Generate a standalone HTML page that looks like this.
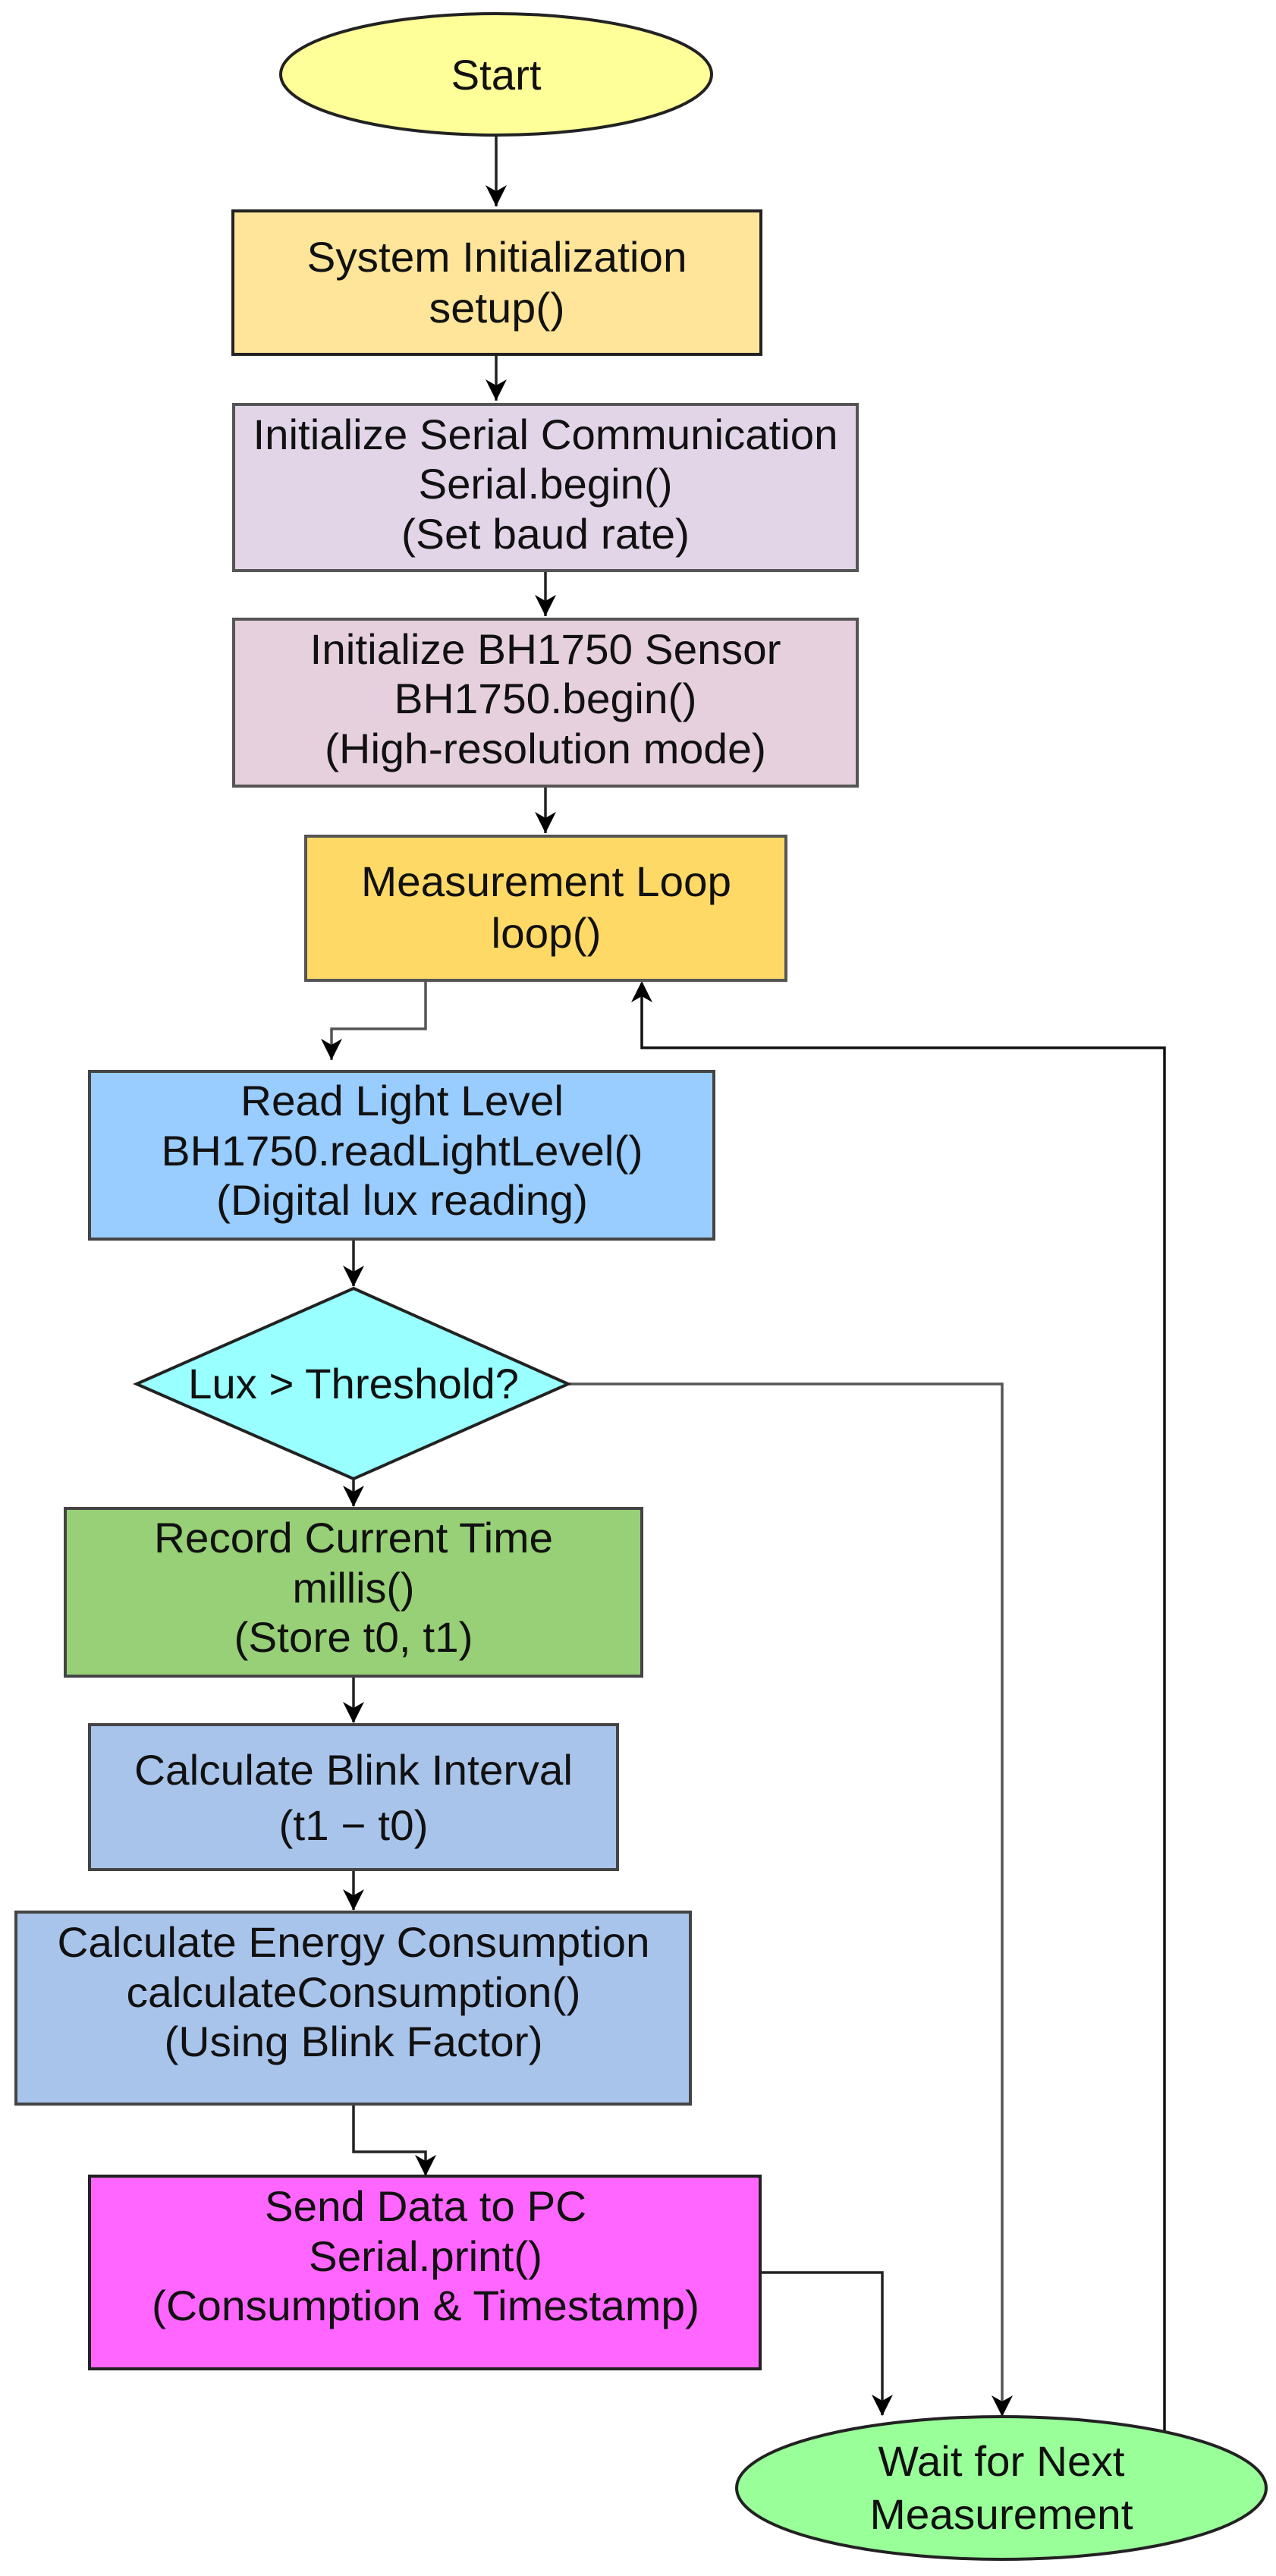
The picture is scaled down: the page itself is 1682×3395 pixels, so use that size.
<!DOCTYPE html>
<html><head><meta charset="utf-8"><style>
html,body{margin:0;padding:0;background:#fff;}
svg{display:block;}
text{font-family:"Liberation Sans",Arial,sans-serif;font-size:56px;fill:#111;text-anchor:middle;}
</style></head><body>
<svg width="1682" height="3395" viewBox="0 0 1682 3395" xmlns="http://www.w3.org/2000/svg">
<g fill="none" stroke="#555" stroke-width="3.5">
<path d="M654 180 V272" stroke="#222"/>
<path d="M654 467 V528" stroke="#222"/>
<path d="M719 753 V812" stroke="#222"/>
<path d="M719 1036 V1098" stroke="#222"/>
<path d="M561 1292 V1356 H437 V1397"/>
<path d="M1535 3205 V1381 H846 V1296" stroke="#111"/>
<path d="M466 1633 V1695" stroke="#222"/>
<path d="M749 1824 H1321 V3183"/>
<path d="M466 1949 V1985" stroke="#222"/>
<path d="M466 2209 V2270" stroke="#222"/>
<path d="M466 2464 V2517" stroke="#222"/>
<path d="M466 2773 V2836 H561 V2866" stroke="#222"/>
<path d="M1002 2995 H1163 V3183" stroke="#222"/>
</g>
<g fill="#000">
<path d="M640 244 L654 272 L668 244 L654 252Z"/>
<path d="M640 500 L654 528 L668 500 L654 508Z"/>
<path d="M705 784 L719 812 L733 784 L719 792Z"/>
<path d="M705 1070 L719 1098 L733 1070 L719 1078Z"/>
<path d="M423 1369 L437 1397 L451 1369 L437 1377Z"/>
<path d="M832 1321 L846 1293 L860 1321 L846 1313Z"/>
<path d="M452 1668 L466 1696 L480 1668 L466 1676Z"/>
<path d="M452 1958 L466 1986 L480 1958 L466 1966Z"/>
<path d="M452 2243 L466 2271 L480 2243 L466 2251Z"/>
<path d="M452 2490 L466 2518 L480 2490 L466 2498Z"/>
<path d="M547 2840 L561 2868 L575 2840 L561 2848Z"/>
<path d="M1149 3156 L1163 3184 L1177 3156 L1163 3164Z"/>
<path d="M1307 3157 L1321 3185 L1335 3157 L1321 3165Z"/>
</g>
<g stroke-width="4">
<ellipse cx="654" cy="98" rx="284" ry="80" fill="#FFFF99" stroke="#222"/>
<rect x="307" y="278" width="696" height="189" fill="#FFE599" stroke="#222"/>
<rect x="308" y="533" width="822" height="219" fill="#E1D5E7" stroke="#555"/>
<rect x="308" y="816" width="822" height="220" fill="#E6D0DE" stroke="#555"/>
<rect x="403" y="1102" width="633" height="190" fill="#FFD966" stroke="#555"/>
<rect x="118" y="1412" width="823" height="221" fill="#99CCFF" stroke="#444"/>
<polygon points="466,1698 749,1824 466,1949 180,1824" fill="#99FFFF" stroke="#222"/>
<rect x="86" y="1988" width="760" height="221" fill="#97D077" stroke="#444"/>
<rect x="118" y="2273" width="696" height="191" fill="#A9C4EB" stroke="#444"/>
<rect x="21" y="2520" width="889" height="253" fill="#A9C4EB" stroke="#444"/>
<rect x="118" y="2868" width="884" height="254" fill="#FF66FF" stroke="#222"/>
<ellipse cx="1320" cy="3279" rx="349" ry="94" fill="#99FF99" stroke="#222"/>
</g>
<g>
<text x="654" y="118" textLength="119" lengthAdjust="spacingAndGlyphs">Start</text>
<text x="655" y="358" textLength="501" lengthAdjust="spacingAndGlyphs">System Initialization</text>
<text x="655" y="425" textLength="179" lengthAdjust="spacingAndGlyphs">setup()</text>
<text x="719" y="592" textLength="771" lengthAdjust="spacingAndGlyphs">Initialize Serial Communication</text>
<text x="719" y="657" textLength="335" lengthAdjust="spacingAndGlyphs">Serial.begin()</text>
<text x="719" y="723" textLength="380" lengthAdjust="spacingAndGlyphs">(Set baud rate)</text>
<text x="719" y="875" textLength="621" lengthAdjust="spacingAndGlyphs">Initialize BH1750 Sensor</text>
<text x="719" y="940" textLength="399" lengthAdjust="spacingAndGlyphs">BH1750.begin()</text>
<text x="719" y="1006" textLength="582" lengthAdjust="spacingAndGlyphs">(High-resolution mode)</text>
<text x="720" y="1181" textLength="488" lengthAdjust="spacingAndGlyphs">Measurement Loop</text>
<text x="720" y="1249" textLength="145" lengthAdjust="spacingAndGlyphs">loop()</text>
<text x="530" y="1470" textLength="426" lengthAdjust="spacingAndGlyphs">Read Light Level</text>
<text x="530" y="1536" textLength="635" lengthAdjust="spacingAndGlyphs">BH1750.readLightLevel()</text>
<text x="530" y="1601" textLength="490" lengthAdjust="spacingAndGlyphs">(Digital lux reading)</text>
<text x="466" y="1843" textLength="436" lengthAdjust="spacingAndGlyphs">Lux &gt; Threshold?</text>
<text x="466" y="2046" textLength="526" lengthAdjust="spacingAndGlyphs">Record Current Time</text>
<text x="466" y="2112" textLength="161" lengthAdjust="spacingAndGlyphs">millis()</text>
<text x="466" y="2177" textLength="315" lengthAdjust="spacingAndGlyphs">(Store t0, t1)</text>
<text x="466" y="2352" textLength="578" lengthAdjust="spacingAndGlyphs">Calculate Blink Interval</text>
<text x="466" y="2425" textLength="197" lengthAdjust="spacingAndGlyphs">(t1 − t0)</text>
<text x="466" y="2579" textLength="781" lengthAdjust="spacingAndGlyphs">Calculate Energy Consumption</text>
<text x="466" y="2645" textLength="599" lengthAdjust="spacingAndGlyphs">calculateConsumption()</text>
<text x="466" y="2710" textLength="499" lengthAdjust="spacingAndGlyphs">(Using Blink Factor)</text>
<text x="561" y="2927" textLength="424" lengthAdjust="spacingAndGlyphs">Send Data to PC</text>
<text x="561" y="2993" textLength="308" lengthAdjust="spacingAndGlyphs">Serial.print()</text>
<text x="561" y="3058" textLength="722" lengthAdjust="spacingAndGlyphs">(Consumption &amp; Timestamp)</text>
<text x="1320" y="3263" textLength="325" lengthAdjust="spacingAndGlyphs">Wait for Next</text>
<text x="1320" y="3333" textLength="347" lengthAdjust="spacingAndGlyphs">Measurement</text>
</g>
</svg>
</body></html>
